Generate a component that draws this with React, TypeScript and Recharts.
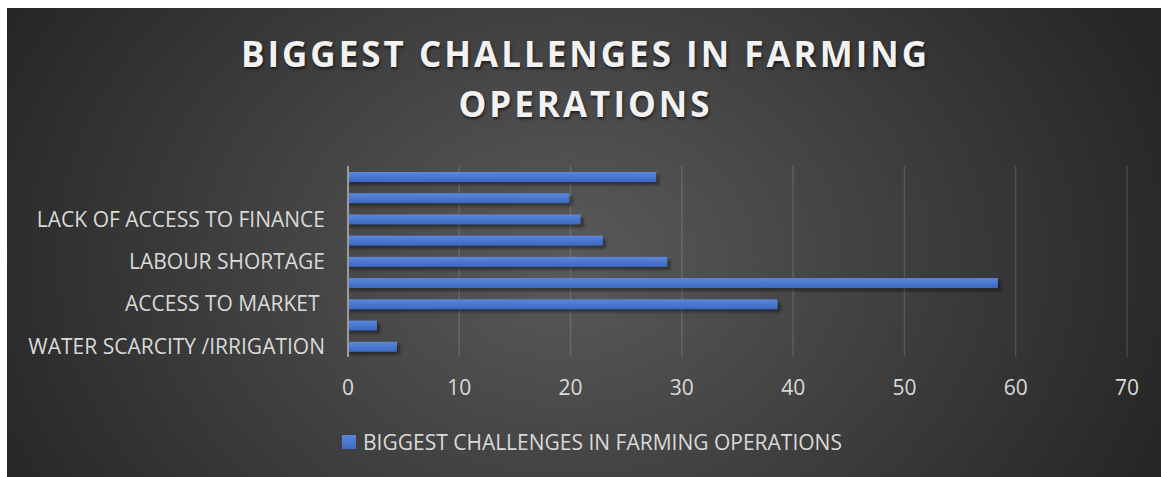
import { BarChart, Bar, XAxis, YAxis, CartesianGrid, Legend } from 'recharts';

// rows listed top to bottom; Excel skipped every other label so those are blank
const categories = [
  '',
  '',
  'LACK OF ACCESS TO FINANCE',
  '',
  'LABOUR SHORTAGE',
  '',
  'ACCESS TO MARKET ',
  '',
  'WATER SCARCITY /IRRIGATION',
];
const values = [27.7, 19.9, 20.9, 22.9, 28.7, 58.4, 38.6, 2.6, 4.4];
const xTicks = [0, 10, 20, 30, 40, 50, 60, 70];
const seriesName = 'BIGGEST CHALLENGES IN FARMING OPERATIONS';
const titleLines = ['BIGGEST CHALLENGES IN FARMING', 'OPERATIONS'];

const data = categories.map((category, i) => ({ category, value: values[i] }));

const FONT = "'Open Sans', sans-serif";
const TEXT = '#d9d9d9';
const FS = 21;

function CategoryTick({ x, y, payload }: any) {
  const idx =
    typeof payload?.index === 'number'
      ? payload.index
      : typeof payload?.value === 'number'
        ? payload.value
        : -1;
  const label = idx >= 0 ? categories[idx] ?? '' : String(payload?.value ?? '');
  if (!label) return null;
  return (
    <text
      x={x}
      y={y}
      dy="0.355em"
      textAnchor="end"
      fill={TEXT}
      fontSize={FS}
      fontFamily={FONT}
      style={{ whiteSpace: 'pre' }}
    >
      {label}
    </text>
  );
}

function ShadowBar({ x, y, width, height }: any) {
  if (!width || width <= 0) return null;
  return (
    <g>
      <rect x={x + 1} y={y + 3} width={width + 2} height={height} fill="#000" opacity={0.4} filter="url(#barBlur)" />
      <rect x={x} y={y} width={width} height={height} fill="url(#barFill)" />
    </g>
  );
}

function LegendContent() {
  return (
    <div style={{ paddingLeft: 335, paddingTop: 5, display: 'flex', alignItems: 'center', height: 20 }}>
      <span style={{ width: 14, height: 14, background: 'linear-gradient(#5a87d8, #3d6bc5)', marginRight: 7 }} />
      <span style={{ color: TEXT, fontSize: FS, fontFamily: FONT, lineHeight: '20px' }}>{seriesName}</span>
    </div>
  );
}

export default function App() {
  return (
    <>
      <style>{'html, body { overflow: hidden; }'}</style>
      <div
        style={{
          position: 'absolute',
          left: 7,
          top: 8,
          width: 1174,
          height: 489,
          overflow: 'hidden',
          background: 'radial-gradient(ellipse 640px 500px at 560px 250px, #5a5a5a 0%, #262626 100%)',
          fontFamily: FONT,
        }}
      >
        <svg width={0} height={0} style={{ position: 'absolute' }}>
          <defs>
            <linearGradient id="barFill" x1="0" y1="0" x2="0" y2="1">
              <stop offset="0%" stopColor="#5b88d9" />
              <stop offset="100%" stopColor="#3a67c2" />
            </linearGradient>
            <filter id="barBlur" x="-10%" y="-50%" width="120%" height="200%">
              <feGaussianBlur stdDeviation="1.5" />
            </filter>
          </defs>
        </svg>
        <div
          style={{
            position: 'absolute',
            top: 21,
            left: 0,
            width: 1157,
            textAlign: 'center',
            color: '#f2f2f2',
            fontSize: 35,
            fontWeight: 700,
            letterSpacing: 3,
            lineHeight: '50px',
            textShadow: '1px 2px 3px rgba(0,0,0,0.6)',
          }}
        >
          {titleLines.map((t) => (
            <div key={t}>{t}</div>
          ))}
        </div>
        <BarChart
          width={1154}
          height={469}
          data={data}
          layout="vertical"
          margin={{ top: 158, right: 34, left: 0, bottom: 0 }}
        >
          <CartesianGrid horizontal={false} stroke="rgba(255,255,255,0.13)" strokeWidth={1.5} />
          <XAxis
            type="number"
            domain={[0, 70]}
            ticks={xTicks}
            axisLine={false}
            tickLine={false}
            tickSize={0}
            tickMargin={23}
            height={70}
            tick={{ fill: TEXT, fontSize: FS, fontFamily: FONT }}
          />
          <YAxis
            type="category"
            dataKey="category"
            width={341}
            interval={0}
            axisLine={{ stroke: '#9a9a9a', strokeWidth: 2 }}
            tickLine={false}
            tickSize={0}
            tickMargin={23}
            tick={<CategoryTick />}
          />
          <Legend verticalAlign="bottom" height={50} content={<LegendContent />} />
          <Bar dataKey="value" name={seriesName} barSize={10} isAnimationActive={false} shape={<ShadowBar />} />
        </BarChart>
      </div>
    </>
  );
}
